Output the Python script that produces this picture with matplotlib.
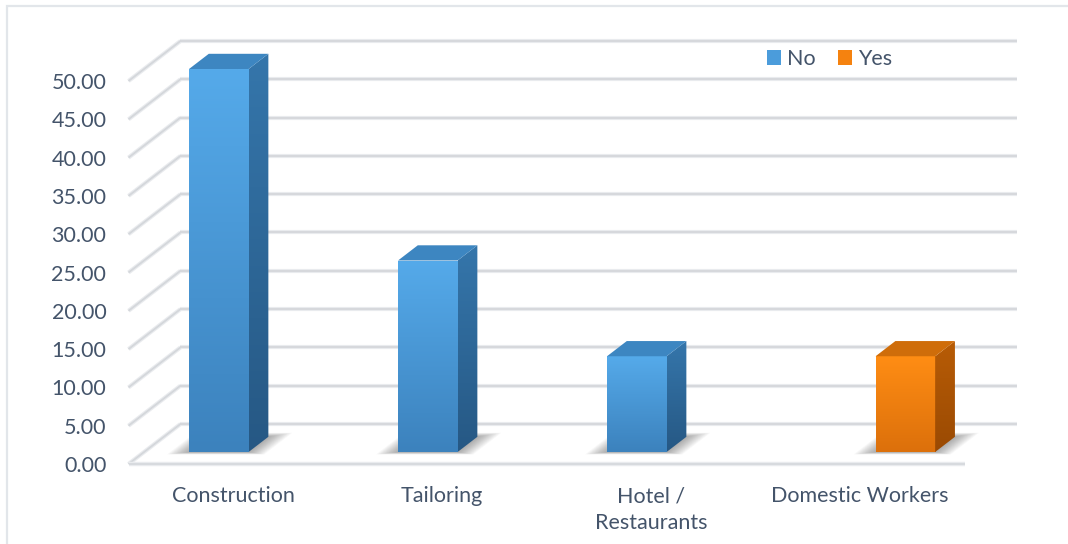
import numpy as np
import matplotlib
matplotlib.use("Agg")
import matplotlib.pyplot as plt
import matplotlib.colors as mcolors
from matplotlib.patches import Polygon, Rectangle, Patch

# ---- data ----
categories = ["Construction", "Tailoring", "Hotel /\nRestaurants", "Domestic Workers"]
series_names = ["No", "Yes"]
no_values = [50.0, 25.0, 12.5, 0.0]
yes_values = [0.0, 0.0, 0.0, 12.5]
y_ticks = [0, 5, 10, 15, 20, 25, 30, 35, 40, 45, 50]
y_tick_labels = [f"{v:.2f}" for v in y_ticks]

plt.rcParams['font.family'] = ['Lato', 'DejaVu Sans']
TEXT = "#44546a"
GRID = "#d4d7db"
GRID_HALO = "#e9ebee"
FS = 15.5

# oblique depth of the floor (data units)
DX = 0.2488
DY = 5.222
# bar footprint depth range (fraction of the floor depth) and width
D0, D1 = 0.30, 0.68
W = 0.285

fig = plt.figure(figsize=(10.68, 5.44), dpi=100)
ax = fig.add_axes([128.5 / 1068, 80 / 544, 888 / 1068, 423 / 544])
ax.set_xlim(-0.5, 3.5 + DX)
ax.set_ylim(0, max(y_ticks) + DY)
for s in ax.spines.values():
    s.set_visible(False)

x = np.arange(len(categories))

# back wall gridlines and left wall diagonals
for v in y_ticks:
    for lw, col in ((3.0, GRID_HALO), (1.3, GRID)):
        ax.plot([-0.5 + DX, 3.5 + DX], [v + DY, v + DY], color=col, lw=lw,
                solid_capstyle='butt', zorder=1, clip_on=False)
        ax.plot([-0.5, -0.5 + DX], [v, v + DY], color=col, lw=lw,
                solid_capstyle='butt', zorder=1, clip_on=False)
# front edge of the floor
ax.plot([-0.5, 3.5], [0, 0], color=GRID_HALO, lw=3.2, zorder=1, clip_on=False,
        solid_capstyle='butt')
ax.plot([-0.5, 3.5], [0, 0], color=GRID, lw=1.2, zorder=1, clip_on=False,
        solid_capstyle='butt')


def floor_pt(xf, d):
    return (xf + d * DX, d * DY)


def grad_fill(verts, top_color, bottom_color, zorder):
    poly = Polygon(verts, closed=True, facecolor='none', edgecolor='none',
                   zorder=zorder)
    ax.add_patch(poly)
    xs, ys = zip(*verts)
    c1 = np.array(mcolors.to_rgb(top_color))
    c2 = np.array(mcolors.to_rgb(bottom_color))
    t = np.linspace(0, 1, 128)[:, None]
    img = (c1 * (1 - t) + c2 * t).reshape(128, 1, 3)
    im = ax.imshow(img, extent=(min(xs), max(xs), min(ys), max(ys)),
                   origin='upper', aspect='auto', interpolation='bilinear',
                   zorder=zorder)
    im.set_clip_path(poly)


def shadow(x0, zorder):
    # soft shadow cast on the floor around the bar footprint
    n = 14
    for k in range(n):
        e = (1 - k / n)
        xl = x0 - 0.09 * e
        xr = x0 + W + 0.09 * e
        da = D0 - 0.06 * e
        db = D1 + 0.10 * e
        verts = [floor_pt(xl, da), floor_pt(xr, da), floor_pt(xr, db), floor_pt(xl, db)]
        ax.add_patch(Polygon(verts, closed=True, facecolor='#404040',
                             edgecolor='none', alpha=0.035, zorder=zorder))


styles = [
    dict(front=("#55aaea", "#3c82bd"), side=("#3576ab", "#265884"), top="#3d86c1"),
    dict(front=("#ff8d14", "#dc700b"), side=("#b85c06", "#9a4a03"), top="#cf6d0a"),
]

series_values = [no_values, yes_values]
for si, vals in enumerate(series_values):
    st = styles[si]
    lefts = x - W + si * W
    for x0, v in zip(lefts, vals):
        if v > 0:
            shadow(x0, 2)
    # front faces
    bars = ax.bar(lefts + D0 * DX, vals, width=W, bottom=D0 * DY, align='edge',
                  color='none', edgecolor='none', zorder=4)
    for x0, v, b in zip(lefts, vals, bars):
        if v <= 0:
            continue
        c1 = np.array(mcolors.to_rgb(st["front"][0]))
        c2 = np.array(mcolors.to_rgb(st["front"][1]))
        t = np.linspace(0, 1, 128)[:, None]
        img = (c1 * (1 - t) + c2 * t).reshape(128, 1, 3)
        bx, by = b.get_x(), b.get_y()
        im = ax.imshow(img, extent=(bx, bx + b.get_width(), by, by + b.get_height()),
                       origin='upper', aspect='auto', interpolation='bilinear',
                       zorder=4)
        im.set_clip_path(b)
        # side face
        side = [floor_pt(x0 + W, D0), floor_pt(x0 + W, D1)]
        side = side + [(side[1][0], side[1][1] + v), (side[0][0], side[0][1] + v)]
        grad_fill(side, st["side"][0], st["side"][1], 4)
        # top face
        p = [floor_pt(x0, D0), floor_pt(x0 + W, D0), floor_pt(x0 + W, D1), floor_pt(x0, D1)]
        top = [(px, py + v) for px, py in p]
        ax.add_patch(Polygon(top, closed=True, facecolor=st["top"],
                             edgecolor='none', zorder=4))

ax.set_xlim(-0.5, 3.5 + DX)
ax.set_ylim(0, max(y_ticks) + DY)

ax.set_yticks(y_ticks)
ax.set_yticklabels(y_tick_labels)
ax.set_xticks(x)
ax.set_xticklabels(categories, linespacing=1.45)
ax.tick_params(axis='y', length=0, pad=16, labelsize=FS, labelcolor=TEXT)
ax.tick_params(axis='x', length=0, pad=16, labelsize=FS, labelcolor=TEXT)

fig.legend(handles=[Patch(facecolor="#4b9cdb"), Patch(facecolor="#f5820f")],
           labels=series_names, loc='center left',
           bbox_to_anchor=(767 / 1068, 1 - 59 / 544), ncol=2, frameon=False,
           fontsize=FS, handlelength=0.65, handleheight=0.65,
           handletextpad=0.3, columnspacing=1.0, borderpad=0,
           borderaxespad=0, labelcolor=TEXT)

# chart area border
fig.add_artist(Rectangle((7 / 1068, -0.1), 1.2, 1.1 - 6 / 544,
                         transform=fig.transFigure, fill=False,
                         edgecolor="#e2e6ea", lw=1.6))

fig.savefig("out.png", dpi=100, facecolor="white")
